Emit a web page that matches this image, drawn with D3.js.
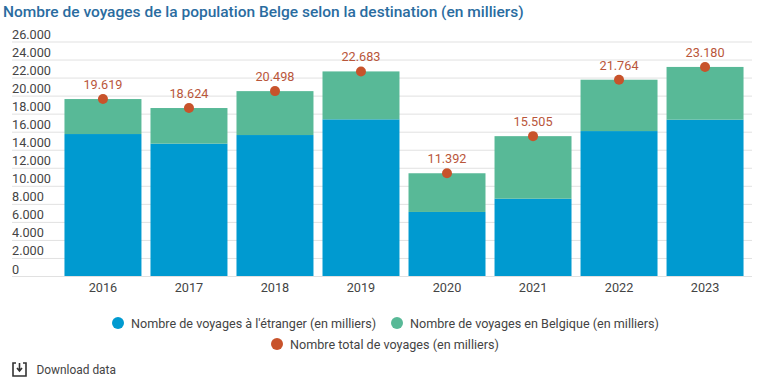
<!DOCTYPE html>
<html>
<head>
<meta charset="utf-8">
<script src="https://cdn.jsdelivr.net/npm/d3@7"></script>
<style>
  html, body { margin: 0; padding: 0; background: #fff; }
  svg { display: block; font-family: Roboto, sans-serif; }
</style>
</head>
<body>
<div id="my_dataviz"></div>
<script>
// data
const years = ["2016", "2017", "2018", "2019", "2020", "2021", "2022", "2023"];
const abroad = [15740, 14670, 15630, 17370, 7100, 8570, 16070, 17330];
const belgium = [3879, 3954, 4868, 5313, 4292, 6935, 5694, 5850];
const total = [19619, 18624, 20498, 22683, 11392, 15505, 21764, 23180];
const yTicks = [0, 2000, 4000, 6000, 8000, 10000, 12000, 14000, 16000, 18000, 20000, 22000, 24000, 26000];
const legendNames = [
    "Nombre de voyages à l'étranger (en milliers)",
    "Nombre de voyages en Belgique (en milliers)",
    "Nombre total de voyages (en milliers)"
];

const colors = ["#009ad0", "#58b997", "#c8532b"];
const chartWidth = 770, chartHeight = 379;
const gridLeft = 12, gridRight = 752, plotTop = 41.5, plotBottom = 276;
const labelSize = 12.7;

const belge = d3.formatLocale({decimal: ",", thousands: ".", grouping: [3], currency: ["", "€"]});
const fmt = belge.format(",d");

const svg = d3.select("#my_dataviz")
    .append("svg")
    .attr("width", chartWidth)
    .attr("height", chartHeight);

// title
svg.append("text")
    .attr("x", 3)
    .attr("y", 16.5)
    .attr("font-size", 15.5)
    .attr("font-weight", 500)
    .attr("fill", "#2a6c9f")
    .text("Nombre de voyages de la population Belge selon la destination (en milliers)");

// scales
const x = d3.scaleBand()
    .domain(years)
    .range([60, 748])
    .paddingInner(0.105)
    .paddingOuter(0.052);

const y = d3.scaleLinear()
    .domain([0, 26000])
    .range([plotBottom, plotTop]);

// y axis, the ticks are stretched into gridlines with labels sitting on top
const yAxis = svg.append("g")
    .attr("transform", `translate(${gridLeft}, 0)`)
    .call(d3.axisRight(y).tickValues(yTicks).tickSize(gridRight - gridLeft).tickFormat(fmt));
yAxis.select(".domain").remove();
yAxis.selectAll("line").attr("stroke", "#e1e1e1").attr("stroke-width", 1);
yAxis.selectAll("text")
    .attr("x", 0)
    .attr("dy", -3)
    .attr("font-size", labelSize)
    .attr("font-family", "Roboto, sans-serif")
    .attr("fill", "#444");

// stacked bars
svg.append("g")
    .selectAll("rect")
    .data(years)
    .join("rect")
    .attr("x", d => x(d))
    .attr("width", x.bandwidth())
    .attr("y", (d, i) => y(abroad[i]))
    .attr("height", (d, i) => y(0) - y(abroad[i]))
    .attr("fill", colors[0]);

svg.append("g")
    .selectAll("rect")
    .data(years)
    .join("rect")
    .attr("x", d => x(d))
    .attr("width", x.bandwidth())
    .attr("y", (d, i) => y(abroad[i] + belgium[i]))
    .attr("height", (d, i) => y(abroad[i]) - y(abroad[i] + belgium[i]))
    .attr("fill", colors[1]);

// totals
svg.append("g")
    .selectAll("circle")
    .data(years)
    .join("circle")
    .attr("cx", d => x(d) + x.bandwidth() / 2)
    .attr("cy", (d, i) => y(total[i]))
    .attr("r", 5)
    .attr("fill", colors[2]);

svg.append("g")
    .selectAll("text")
    .data(years)
    .join("text")
    .attr("x", d => x(d) + x.bandwidth() / 2)
    .attr("y", (d, i) => y(total[i]) - 10)
    .attr("text-anchor", "middle")
    .attr("font-size", labelSize)
    .attr("fill", "#b9563a")
    .text((d, i) => fmt(total[i]));

// x axis
const xAxis = svg.append("g")
    .attr("transform", `translate(0, ${plotBottom})`)
    .call(d3.axisBottom(x).tickSize(0).tickPadding(7));
xAxis.select(".domain").remove();
xAxis.selectAll("text")
    .attr("font-size", labelSize)
    .attr("font-family", "Roboto, sans-serif")
    .attr("fill", "#444");

// legend
const legendPos = [[118, 323], [397, 323], [277, 344]];
const legend = svg.append("g")
    .selectAll("g")
    .data(legendNames)
    .join("g")
    .attr("transform", (d, i) => `translate(${legendPos[i][0]}, ${legendPos[i][1]})`);
legend.append("circle")
    .attr("r", 6)
    .attr("fill", (d, i) => colors[i]);
legend.append("text")
    .attr("x", 13)
    .attr("y", 4.5)
    .attr("font-size", 12.6)
    .attr("fill", "#444")
    .text(d => d);

// download link
const dl = svg.append("g").attr("transform", "translate(12, 362)");
dl.append("path")
    .attr("d", "M4 1H1V14H14V1H11")
    .attr("fill", "none")
    .attr("stroke", "#333")
    .attr("stroke-width", 1.6);
dl.append("path")
    .attr("d", "M7.5 1V8M5 6L7.5 9L10 6")
    .attr("fill", "none")
    .attr("stroke", "#333")
    .attr("stroke-width", 1.6);
svg.append("text")
    .attr("x", 36.5)
    .attr("y", 374)
    .attr("font-size", 11.9)
    .attr("fill", "#444")
    .text("Download data");
</script>
</body>
</html>
